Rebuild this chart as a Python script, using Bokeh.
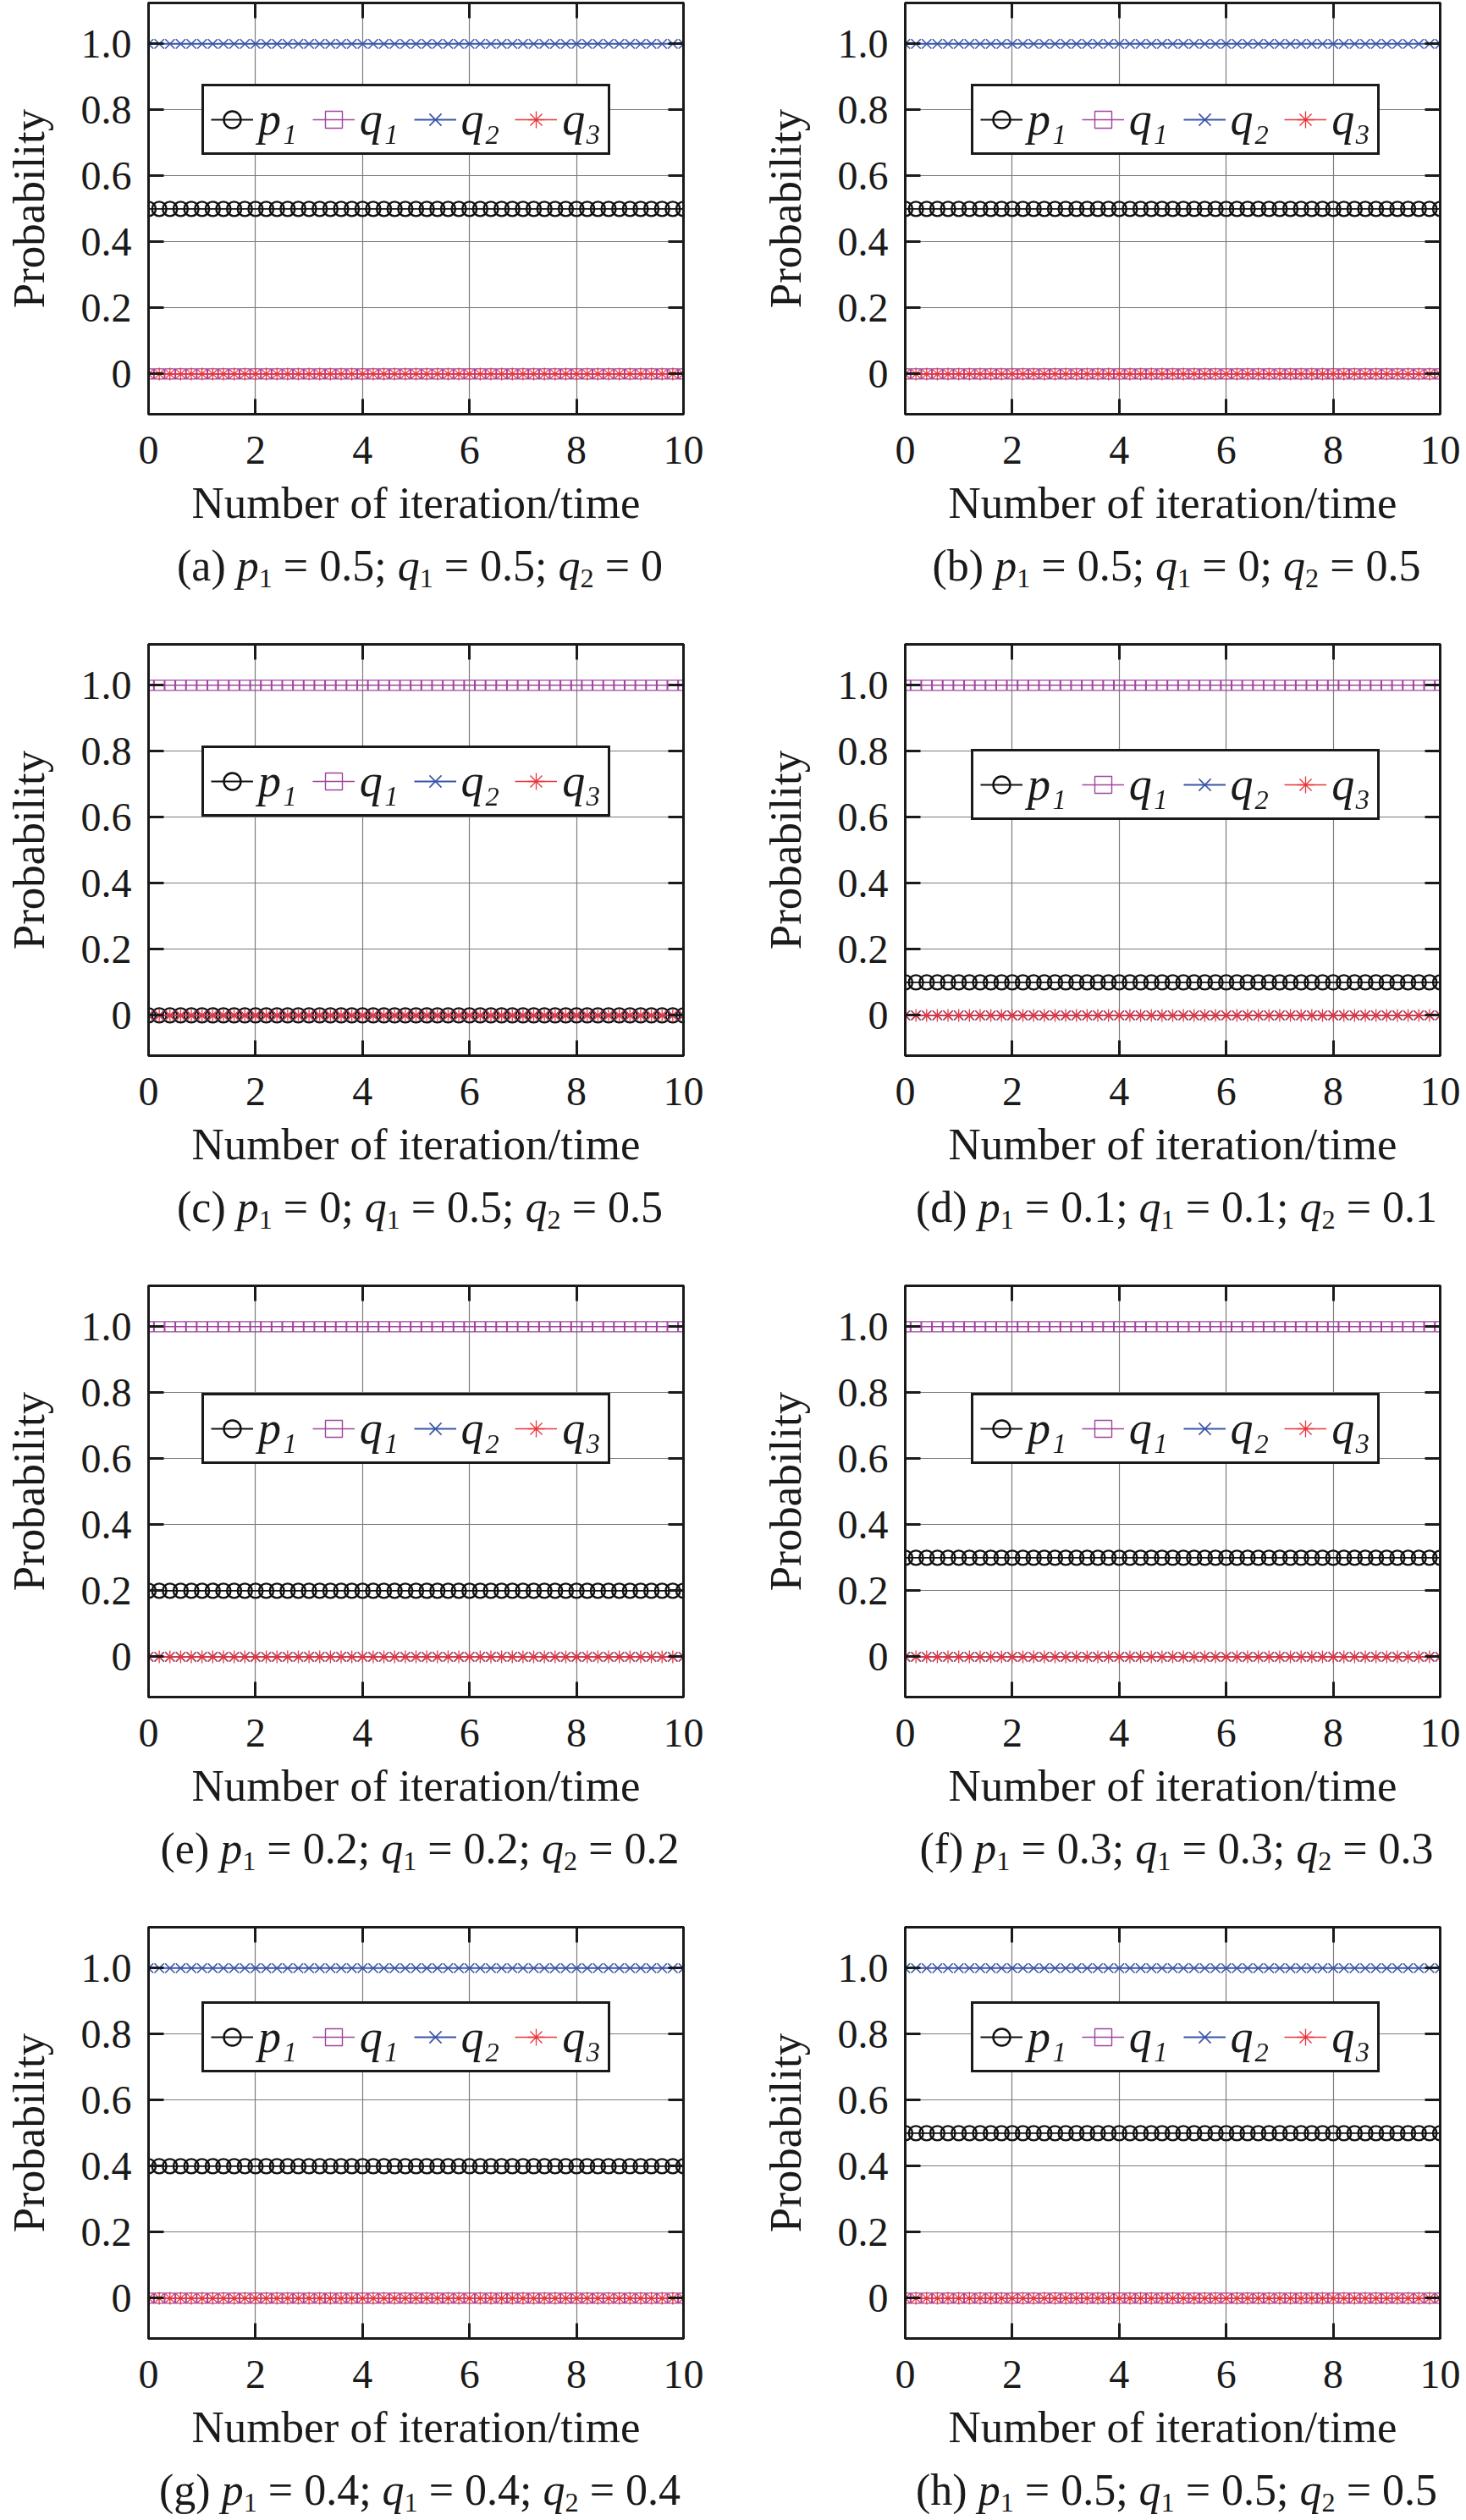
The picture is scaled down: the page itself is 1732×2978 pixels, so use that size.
from bokeh.plotting import figure
from bokeh.models import Range1d, FixedTicker, LinearAxis, Legend, LegendItem, Div
from bokeh.layouts import row, column
from bokeh.embed import file_html
from bokeh.resources import INLINE

# ---------------- data ----------------
ITERATIONS = [0.0, 0.2, 0.4, 0.6, 0.8, 1.0, 1.2, 1.4, 1.6, 1.8,
              2.0, 2.2, 2.4, 2.6, 2.8, 3.0, 3.2, 3.4, 3.6, 3.8,
              4.0, 4.2, 4.4, 4.6, 4.8, 5.0, 5.2, 5.4, 5.6, 5.8,
              6.0, 6.2, 6.4, 6.6, 6.8, 7.0, 7.2, 7.4, 7.6, 7.8,
              8.0, 8.2, 8.4, 8.6, 8.8, 9.0, 9.2, 9.4, 9.6, 9.8, 10.0]
PANEL_TAGS = ["a", "b", "c", "d", "e", "f", "g", "h"]
# probability level of each series in each panel (constant over iterations)
P1_LEVEL = [0.5, 0.5, 0.0, 0.1, 0.2, 0.3, 0.4, 0.5]
Q1_LEVEL = [0.0, 0.0, 1.0, 1.0, 1.0, 1.0, 0.0, 0.0]
Q2_LEVEL = [1.0, 1.0, 0.0, 0.0, 0.0, 0.0, 1.0, 1.0]
Q3_LEVEL = [0.0, 0.0, 0.0, 0.0, 0.0, 0.0, 0.0, 0.0]
CAP_P1 = ["0.5", "0.5", "0", "0.1", "0.2", "0.3", "0.4", "0.5"]
CAP_Q1 = ["0.5", "0", "0.5", "0.1", "0.2", "0.3", "0.4", "0.5"]
CAP_Q2 = ["0", "0.5", "0.5", "0.1", "0.2", "0.3", "0.4", "0.5"]
X_TICKS = [0, 2, 4, 6, 8, 10]
Y_TICKS = [0, 0.2, 0.4, 0.6, 0.8, 1.0]
Y_TICK_LABELS = ["0", "0.2", "0.4", "0.6", "0.8", "1.0"]
SERIES_NAMES = ["p\u2081", "q\u2081", "q\u2082", "q\u2083"]
X_LABEL = "Number of iteration/time"
Y_LABEL = "Probability"

# legend placement (bottom edge, in probability units) per panel
LEGEND_BOTTOM = [0.663, 0.663, 0.600, 0.591, 0.583, 0.583, 0.683, 0.683]

# ---------------- style ----------------
FONT = "Liberation Serif"
INK = "#1a1a1a"
GRID = "#7c7c7c"
STYLES = [
    dict(color="#111111", marker="circle", size=17, mlw=2.4, llw=1.8),
    dict(color="#a0449e", marker="square", size=12, mlw=1.4, llw=1.5),
    dict(color="#3a55a8", marker="x", size=16, mlw=1.6, llw=2.0),
    dict(color="#e8363c", marker="asterisk", size=15, mlw=1.3, llw=1.3),
]
Y_MIN, Y_MAX = -0.122, 1.124
FRAME_W, FRAME_H = 632, 486
COL_W = 858


def style_axis(ax, labels=True):
    ax.axis_line_color = INK
    ax.axis_line_width = 3
    ax.major_tick_line_color = INK
    ax.major_tick_line_width = 3
    ax.major_tick_in = 18
    ax.major_tick_out = 0
    ax.minor_tick_line_color = None
    ax.major_label_text_font = FONT
    ax.major_label_text_color = INK
    ax.major_label_text_font_size = "48px"
    if not labels:
        ax.major_label_text_font_size = "1px"
        ax.major_label_text_color = None
        ax.major_label_text_alpha = 0
        ax.major_label_standoff = 0


def make_panel(i):
    col = i % 2
    left = 175 if col == 0 else 201
    right = COL_W - left - FRAME_W
    p = figure(frame_width=FRAME_W, frame_height=FRAME_H,
               x_range=Range1d(0, 10), y_range=Range1d(Y_MIN, Y_MAX),
               output_backend="svg", toolbar_location=None,
               min_border_left=left, min_border_right=right,
               min_border_top=3, min_border_bottom=150)
    p.background_fill_color = "white"
    p.border_fill_color = "white"
    p.outline_line_color = INK
    p.outline_line_width = 3

    xt = FixedTicker(ticks=X_TICKS)
    yt = FixedTicker(ticks=Y_TICKS)
    p.xaxis.ticker = xt
    p.yaxis.ticker = yt
    p.yaxis.major_label_overrides = {t: lab for t, lab in zip(Y_TICKS, Y_TICK_LABELS)}
    for ax in p.xaxis + p.yaxis:
        style_axis(ax)
    p.xaxis.major_label_standoff = 26
    p.yaxis.major_label_standoff = 20

    p.xaxis.axis_label = X_LABEL
    p.yaxis.axis_label = Y_LABEL
    for ax, so in ((p.xaxis[0], 14), (p.yaxis[0], 30)):
        ax.axis_label_text_font = FONT
        ax.axis_label_text_font_size = "53px"
        ax.axis_label_text_font_style = "normal"
        ax.axis_label_text_color = INK
        ax.axis_label_standoff = so

    top = LinearAxis(ticker=FixedTicker(ticks=X_TICKS))
    rgt = LinearAxis(ticker=FixedTicker(ticks=Y_TICKS))
    style_axis(top, labels=False)
    style_axis(rgt, labels=False)
    p.add_layout(top, "above")
    p.add_layout(rgt, "right")

    p.xgrid.ticker = xt
    p.ygrid.ticker = yt
    p.xgrid.grid_line_color = GRID
    p.ygrid.grid_line_color = GRID
    p.xgrid.grid_line_width = 1.2
    p.ygrid.grid_line_width = 1.2

    levels = [P1_LEVEL[i], Q1_LEVEL[i], Q2_LEVEL[i], Q3_LEVEL[i]]
    items = []
    for name, lev, st in zip(SERIES_NAMES, levels, STYLES):
        ys = [lev for _ in ITERATIONS]
        lr = p.line(ITERATIONS, ys, line_color=st["color"], line_width=st["llw"])
        sr = p.scatter(ITERATIONS, ys, marker=st["marker"], size=st["size"],
                       line_color=st["color"], fill_color=None, line_width=st["mlw"])
        items.append(LegendItem(label=name, renderers=[lr, sr]))

    lx = 63 if col == 0 else 78
    ly = (LEGEND_BOTTOM[i] - Y_MIN) / (Y_MAX - Y_MIN) * FRAME_H
    leg = Legend(items=items, orientation="horizontal", location=(lx, ly))
    leg.label_text_font = FONT
    leg.label_text_font_style = "italic"
    leg.label_text_font_size = "54px"
    leg.label_text_color = INK
    leg.label_text_baseline = "middle"
    leg.border_line_color = INK
    leg.border_line_alpha = 1.0
    leg.border_line_width = 3
    leg.background_fill_color = "white"
    leg.background_fill_alpha = 1.0
    leg.padding = 8
    leg.spacing = 18
    leg.margin = 0
    leg.glyph_width = 50
    leg.glyph_height = 56
    leg.label_height = 56
    leg.label_standoff = 6
    p.add_layout(leg)

    center = left + FRAME_W // 2
    half = min(center, COL_W - center)
    sub = '<sub style="font-size:62%;vertical-align:-0.26em;line-height:0">'
    html = (f'<div style="margin:0;margin-left:{center - half}px;width:{2 * half}px;'
            f'text-align:center;font-family:\'{FONT}\';font-size:52px;line-height:50px;'
            f'color:{INK};white-space:nowrap">'
            f'({PANEL_TAGS[i]}) <i>p</i>{sub}1</sub> = {CAP_P1[i]}; '
            f'<i>q</i>{sub}1</sub> = {CAP_Q1[i]}; '
            f'<i>q</i>{sub}2</sub> = {CAP_Q2[i]}</div>')
    div_h = 109 if i < 6 else 55
    cap = Div(text=html, width=COL_W, height=div_h)
    return column(p, cap)


rows = []
for r in range(4):
    rows.append(row(make_panel(2 * r), make_panel(2 * r + 1)))
layout = column(*rows)

open("out.html", "w").write(file_html(layout, INLINE))
